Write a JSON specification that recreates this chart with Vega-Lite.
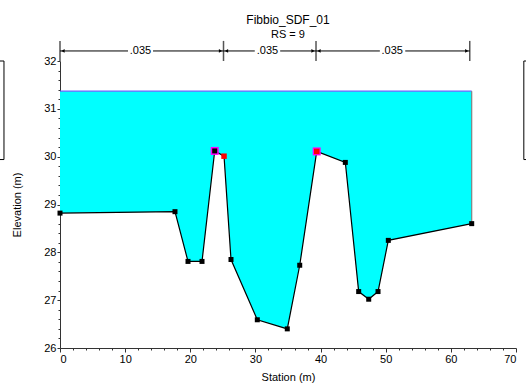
{
  "$schema": "https://vega.github.io/schema/vega-lite/v6.json",
  "autosize": "none",
  "width": 456,
  "height": 287,
  "padding": {"left": 60, "top": 61, "right": 10, "bottom": 37},
  "background": "white",
  "config": {
    "font": "Liberation Sans",
    "view": {"stroke": null},
    "axis": {"labelFont": "Liberation Sans", "titleFont": "Liberation Sans", "labelFontSize": 11, "titleFontSize": 11, "titleFontWeight": "normal", "labelColor": "#000", "titleColor": "#000", "domainColor": "#333", "tickColor": "#333", "grid": false}
  },
  "title": {"text": "Fibbio_SDF_01", "subtitle": "RS = 9", "fontSize": 12, "fontWeight": "normal", "subtitleFontSize": 11, "subtitlePadding": 2, "offset": -1, "color": "#000", "subtitleColor": "#000", "anchor": "middle"},
  "datasets": {
    "ground": [
      {"station": 0, "elev": 28.82, "kind": "plain"},
      {"station": 17.65, "elev": 28.85, "kind": "plain"},
      {"station": 19.65, "elev": 27.81, "kind": "plain"},
      {"station": 21.8, "elev": 27.81, "kind": "plain"},
      {"station": 23.75, "elev": 30.12, "kind": "bank"},
      {"station": 25.18, "elev": 30.01, "kind": "red"},
      {"station": 26.25, "elev": 27.85, "kind": "plain"},
      {"station": 30.29, "elev": 26.59, "kind": "plain"},
      {"station": 34.89, "elev": 26.4, "kind": "plain"},
      {"station": 36.8, "elev": 27.73, "kind": "plain"},
      {"station": 39.41, "elev": 30.11, "kind": "bankred"},
      {"station": 43.8, "elev": 29.88, "kind": "plain"},
      {"station": 45.85, "elev": 27.18, "kind": "plain"},
      {"station": 47.39, "elev": 27.02, "kind": "plain"},
      {"station": 48.82, "elev": 27.18, "kind": "plain"},
      {"station": 50.4, "elev": 28.25, "kind": "plain"},
      {"station": 63.2, "elev": 28.6, "kind": "plain"}
    ],
    "ws": [{"x0": 0, "x1": 63.2, "ws": 31.37, "bed": 28.6}],
    "nticks": [{"s": 0}, {"s": 25.1}, {"s": 39.3}, {"s": 62.9}],
    "nsegs": [
      {"a": 0, "b": 10.44}, {"a": 14.28, "b": 25.1},
      {"a": 25.1, "b": 29.9}, {"a": 33.8, "b": 39.3},
      {"a": 39.3, "b": 49.1}, {"a": 53.0, "b": 62.9}
    ],
    "nlabels": [
      {"pos": 12.36, "n": ".035", "from": 0, "to": 25.1},
      {"pos": 31.85, "n": ".035", "from": 25.1, "to": 39.3},
      {"pos": 51.0, "n": ".035", "from": 39.3, "to": 62.9}
    ],
    "boxes": [
      {"a": -10, "b": -8.6, "top": 32.0, "bot": 29.94},
      {"a": 71.2, "b": 76, "top": 32.0, "bot": 29.94}
    ]
  },
  "layer": [
    {
      "data": {"name": "ground"},
      "mark": {"type": "point", "opacity": 0},
      "encoding": {
        "x": {"field": "station", "type": "quantitative", "scale": {"domain": [0, 70], "nice": false, "zero": false}, "axis": {"orient": "bottom", "values": [2,4,6,8,12,14,16,18,22,24,26,28,32,34,36,38,42,44,46,48,52,54,56,58,62,64,66,68], "tickSize": 2, "labels": false, "domain": false, "title": null}},
        "y": {"field": "elev", "type": "quantitative", "scale": {"domain": [26, 32], "nice": false, "zero": false}, "axis": {"orient": "left", "values": [26.2,26.4,26.6,26.8,27.2,27.4,27.6,27.8,28.2,28.4,28.6,28.8,29.2,29.4,29.6,29.8,30.2,30.4,30.6,30.8,31.2,31.4,31.6,31.8], "tickSize": 2, "labels": false, "domain": false, "title": null}}
      }
    },
    {
      "layer": [
        {
          "data": {"name": "ground"},
          "mark": {"type": "area", "color": "#00ffff", "opacity": 1},
          "encoding": {
            "x": {"field": "station", "type": "quantitative", "scale": {"domain": [0, 70], "nice": false, "zero": false},
              "axis": {"orient": "bottom", "values": [0, 10, 20, 30, 40, 50, 60, 70], "tickSize": 4, "labelPadding": 1, "title": "Station (m)", "titlePadding": 7}},
            "y": {"field": "elev", "type": "quantitative", "scale": {"domain": [26, 32], "nice": false, "zero": false},
              "axis": {"orient": "left", "values": [26, 27, 28, 29, 30, 31, 32], "tickSize": 3, "labelPadding": 1, "title": "Elevation (m)", "titlePadding": 21}},
            "y2": {"datum": 31.37}
          }
        },
        {
          "data": {"name": "ws"},
          "mark": {"type": "rule", "color": "#6464ff", "strokeWidth": 1.2},
          "encoding": {"x": {"field": "x0", "type": "quantitative"}, "x2": {"field": "x1"}, "y": {"field": "ws", "type": "quantitative"}}
        },
        {
          "data": {"name": "ws"},
          "mark": {"type": "rule", "color": "#808080", "strokeWidth": 1.2},
          "encoding": {"x": {"field": "x1", "type": "quantitative"}, "y": {"field": "ws", "type": "quantitative"}, "y2": {"field": "bed"}}
        },
        {
          "data": {"name": "ground"},
          "mark": {"type": "line", "color": "#000", "strokeWidth": 1.2},
          "encoding": {"x": {"field": "station", "type": "quantitative"}, "y": {"field": "elev", "type": "quantitative"}}
        },
        {
          "data": {"name": "ground"},
          "transform": [{"filter": "datum.kind == 'bank' || datum.kind == 'bankred'"}],
          "mark": {"type": "square", "color": "#ff00ff", "size": 64, "opacity": 1},
          "encoding": {"x": {"field": "station", "type": "quantitative"}, "y": {"field": "elev", "type": "quantitative"}}
        },
        {
          "data": {"name": "ground"},
          "transform": [{"filter": "datum.kind != 'red' && datum.kind != 'bankred'"}],
          "mark": {"type": "square", "color": "#000", "size": 25, "opacity": 1, "clip": false},
          "encoding": {"x": {"field": "station", "type": "quantitative"}, "y": {"field": "elev", "type": "quantitative"}}
        },
        {
          "data": {"name": "ground"},
          "transform": [{"filter": "datum.kind == 'red' || datum.kind == 'bankred'"}],
          "mark": {"type": "square", "color": "#ff0000", "size": 30, "opacity": 1},
          "encoding": {"x": {"field": "station", "type": "quantitative"}, "y": {"field": "elev", "type": "quantitative"}}
        },
        {
          "data": {"name": "nticks"},
          "mark": {"type": "rule", "color": "#555", "strokeWidth": 1.5, "clip": false},
          "encoding": {"x": {"field": "s", "type": "quantitative"}, "y": {"datum": 32.0}, "y2": {"datum": 32.42}}
        },
        {
          "data": {"name": "nsegs"},
          "mark": {"type": "rule", "color": "#000", "strokeWidth": 1, "clip": false},
          "encoding": {"x": {"field": "a", "type": "quantitative"}, "x2": {"field": "b"}, "y": {"datum": 32.21}}
        },
        {
          "data": {"name": "nlabels"},
          "mark": {"type": "point", "shape": "triangle-left", "filled": true, "color": "#000", "size": 14, "opacity": 1, "clip": false, "xOffset": 3},
          "encoding": {"x": {"field": "from", "type": "quantitative"}, "y": {"datum": 32.21}}
        },
        {
          "data": {"name": "nlabels"},
          "mark": {"type": "point", "shape": "triangle-right", "filled": true, "color": "#000", "size": 14, "opacity": 1, "clip": false, "xOffset": -3},
          "encoding": {"x": {"field": "to", "type": "quantitative"}, "y": {"datum": 32.21}}
        },
        {
          "data": {"name": "nlabels"},
          "mark": {"type": "text", "font": "Liberation Sans", "fontSize": 11, "color": "#000", "align": "center", "baseline": "middle", "clip": false},
          "encoding": {"x": {"field": "pos", "type": "quantitative"}, "y": {"datum": 32.21}, "text": {"field": "n"}}
        },
        {
          "data": {"name": "boxes"},
          "mark": {"type": "rect", "fill": "white", "stroke": "#000", "strokeWidth": 1, "clip": false},
          "encoding": {"x": {"field": "a", "type": "quantitative"}, "x2": {"field": "b"}, "y": {"field": "top", "type": "quantitative"}, "y2": {"field": "bot"}}
        }
      ]
    }
  ],
  "resolve": {"axis": {"x": "independent", "y": "independent"}}
}
